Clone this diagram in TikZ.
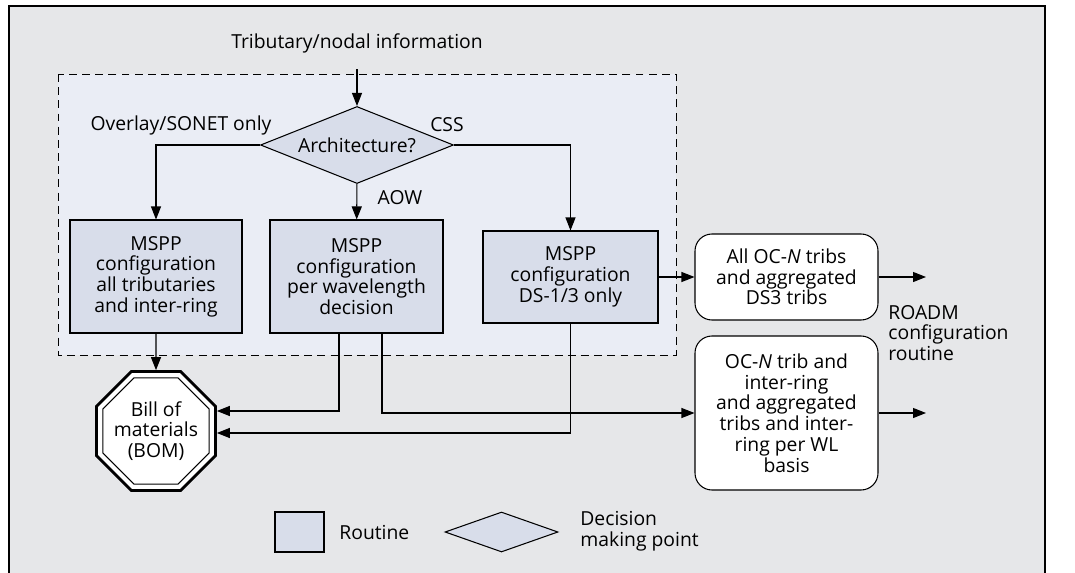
\documentclass[tikz,border=0pt]{standalone}
\usepackage{fontspec}
\setmainfont{Open Sans}
\usetikzlibrary{shapes.geometric,arrows.meta}
\definecolor{bgray}{HTML}{E6E7E9}
\definecolor{dashblue}{HTML}{EAEDF5}
\definecolor{boxblue}{HTML}{D8DDEA}

\begin{document}
\begin{tikzpicture}[>={Triangle[length=0.26cm,width=0.2cm]},line width=0.6pt,
  font=\fontsize{11}{11.8}\selectfont,
  routine/.style={draw,rectangle,fill=boxblue,align=center,inner sep=0pt},
  roadm/.style={draw,rectangle,rounded corners=0.34cm,fill=white,align=center,inner sep=0pt,minimum width=3.66cm},
  octa/.style={regular polygon,regular polygon sides=8,draw}]
\useasboundingbox (0,0) rectangle (21.5,-11.46);
\fill[bgray] (0.18,-0.12) rectangle (20.9,-11.46);
\draw (0.18,-11.46) -- (0.18,-0.12) -- (20.9,-0.12) -- (20.9,-11.46);
\draw[line width=0.45pt,dash pattern=on 4.5pt off 3pt,fill=dashblue] (1.16,-1.48) rectangle (13.52,-7.1);

\node[] (0) at (7.14,-0.86) {Tributary/nodal information};
\node[diamond,draw,fill=boxblue,inner sep=0pt,aspect=2.5,minimum width=3.86cm,minimum height=1.54cm] (d) at (7.14,-2.9) {Architecture?};

\node[routine,minimum width=3.44cm,minimum height=2.26cm] (1) at (3.12,-5.53) {MSPP\\configuration\\all tributaries\\and inter-ring};
\node[routine,minimum width=3.46cm,minimum height=2.26cm] (2) at (7.13,-5.53) {MSPP\\configuration\\per wavelength\\decision};
\node[routine,minimum width=3.5cm,minimum height=1.84cm] (3) at (11.41,-5.54) {MSPP\\configuration\\DS-1/3 only};

\node[roadm,minimum height=1.72cm] (4) at (15.73,-5.54) {All OC-\textit{N} tribs\\and aggregated\\DS3 tribs};
\node[roadm,minimum height=3.08cm] (5) at (15.73,-8.26) {OC-\textit{N} trib and\\inter-ring\\and aggregated\\tribs and inter-\\ring per WL\\basis};
\node[anchor=west,align=left] (6) at (17.64,-6.66) {ROADM\\configuration\\routine};
\coordinate (a4) at (18.52,-5.54);
\coordinate (a5) at (18.52,-8.26);

\node[octa,line width=1.6pt,fill=white,minimum size=2.54cm,align=center,inner sep=0pt] (bom) at (3.12,-8.62) {Bill of\\materials\\(BOM)};
\node[octa,minimum size=2.3cm] at (bom) {};

\draw[->,shorten <=0.2cm] (0)--(d);
\draw[->] (d.west) -| (1.north);
\draw[->] (d.east) -| (3.north);
\draw[->] (d)--(2);
\node[] at (3.62,-2.5) {Overlay/SONET only};
\node[] at (8.94,-2.5) {CSS};
\node[] at (8.0,-3.96) {AOW};

\draw[->] (1)--(bom);
\draw[->] ([xshift=-0.35cm]2.south) |- ([yshift=0.4cm]bom.east);
\draw[->] ([xshift=0.51cm]2.south) |- (5.west);
\draw[->] (3.south) |- ([yshift=-0.04cm]bom.east);
\draw[->] (3)--(4);
\draw[->] (4)--(a4);
\draw[->] (5)--(a5);

\node[routine,minimum width=0.98cm,minimum height=0.8cm] (7) at (5.99,-10.64) {};
\node[anchor=west] (8) at (6.66,-10.64) {Routine};
\node[diamond,draw,fill=boxblue,inner sep=0pt,aspect=2.8,minimum width=2.26cm,minimum height=0.8cm] (9) at (10.03,-10.64) {};
\node[anchor=west,align=left] (10) at (11.48,-10.62) {Decision\\making point};
\end{tikzpicture}
\end{document}
